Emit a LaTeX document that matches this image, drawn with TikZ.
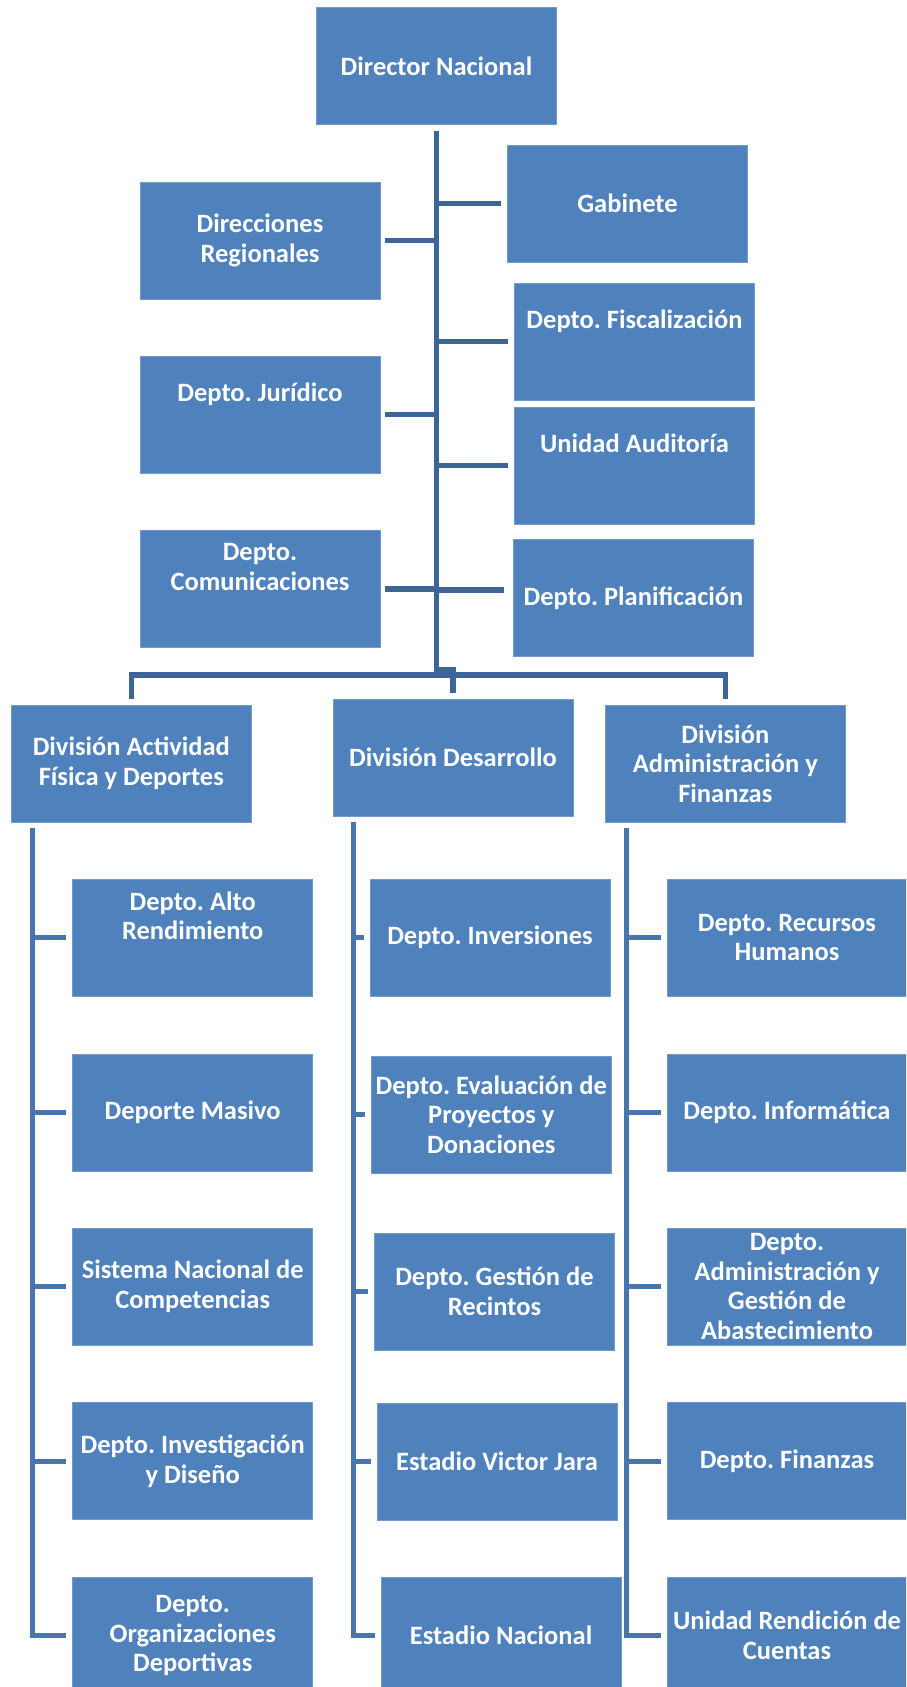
\documentclass[tikz,border=0pt]{standalone}
\usepackage{fontspec}
\setmainfont{Carlito}
\frenchspacing
\usetikzlibrary{positioning, calc}
\definecolor{boxblue}{RGB}{79,129,189}
\definecolor{linkblue}{RGB}{62,101,152}
\definecolor{subblue}{RGB}{72,117,174}
\tikzset{
office/.style = {rectangle, fill = boxblue, draw = boxblue!80!white, line width = 0.8pt,
   minimum width = 240pt, minimum height = 117pt, inner sep = 1pt, align = center,
   text = white, font = \fontsize{26.5}{29.5}\selectfont\bfseries},
raised/.style = {text depth = 44pt},
link/.style = {draw = linkblue, line width = 5.5pt},
sublink/.style = {draw = subblue, line width = 5pt}
}
\begin{document}
\begin{tikzpicture}[x = 1pt, y = -1pt]
\useasboundingbox (0,0) rectangle (906,1687);
\clip (0,0) rectangle (906,1687);

%% Top level
\node [office] (dir) at (436.5,65.8) {Director Nacional};
\node [office] (gab) at (627.5,203.5) {Gabinete};
\node [office] (reg) at (260,240.5) {Direcciones\\Regionales};
\node [office, raised] (fis) at (634.5,341.5) {Depto. Fiscalización};
\node [office, raised] (jur) at (260,414.5) {Depto. Jurídico};
\node [office, raised] (aud) at (634.5,465.5) {Unidad Auditoría};
\node [office, raised] (com) at (260,589) {Depto.\\Comunicaciones};
\node [office] (pla) at (633.5,598) {Depto. Planificación};

%% Divisions
\node [office] (divA) at (131.3,763.5) {División Actividad\\Física y Deportes};
\node [office] (divD) at (453,757.5) {División Desarrollo};
\node [office] (divF) at (725.3,763.5) {División\\Administración y\\Finanzas};

%% Departments
\node [office, raised] (alto) at (192.7,937.5) {Depto. Alto\\Rendimiento};
\node [office] (masivo) at (192.7,1112.5) {Deporte Masivo};
\node [office] (sisnac) at (192.7,1286.5) {Sistema Nacional de\\Competencias};
\node [office] (invest) at (192.7,1461) {Depto. Investigación\\y Diseño};
\node [office] (orgdep) at (192.7,1635.5) {Depto.\\Organizaciones\\Deportivas};

\node [office] (inver) at (490,937.5) {Depto. Inversiones};
\node [office] (evalua) at (491.3,1114.5) {Depto. Evaluación de\\Proyectos y\\Donaciones};
\node [office] (recint) at (494.5,1291.5) {Depto. Gestión de\\Recintos};
\node [office] (vjara) at (497,1461.5) {Estadio Victor Jara};
\node [office] (enac) at (501,1635.5) {Estadio Nacional};

\node [office] (rrhh) at (787,937.5) {Depto. Recursos\\Humanos};
\node [office] (infor) at (787,1112.5) {Depto. Informática};
\node [office] (abast) at (787,1286.5) {Depto.\\Administración y\\Gestión de\\Abastecimiento};
\node [office] (finan) at (787,1461) {Depto. Finanzas};
\node [office] (rendic) at (787,1635.5) {Unidad Rendición de\\Cuentas};

%% Trunk and staff units
\coordinate (fork) at (436.5,675);
\draw [link, shorten <= 6pt] (dir.south) -- (fork);
\draw [link, shorten <= 5pt] (reg.east) -- (reg.east -| fork);
\draw [link, shorten <= 5pt] (jur.east) -- (jur.east -| fork);
\draw [link, shorten <= 5pt] (com.east) -- (com.east -| fork);
\draw [link, shorten >= 6pt] (gab.west -| fork) -- (gab.west);
\draw [link, shorten >= 6pt] (fis.west -| fork) -- (fis.west);
\draw [link, shorten >= 6pt] (aud.west -| fork) -- (aud.west);
\draw [link, shorten >= 9pt] ([yshift = 8pt]pla.west -| fork) -- ([yshift = 8pt]pla.west);

%% Bar to divisions
\draw [link, shorten >= 6pt] (fork) -| (divA.north);
\draw [link, shorten >= 6pt] (fork) -| (divF.north);
\draw [link, shorten >= 6pt] ([yshift = 5pt]fork) -| (divD.north);

%% Division spines
\coordinate (spA) at ([xshift = 21.5pt]divA.south west);
\coordinate (spD) at ([xshift = 20.5pt]divD.south west);
\coordinate (spF) at ([xshift = 21.5pt]divF.south west);

\draw [sublink, shorten <= 6pt, shorten >= 6pt] (spA) |- (orgdep.west);
\draw [sublink, shorten >= 6pt] (alto.west -| spA) -- (alto.west);
\draw [sublink, shorten >= 6pt] (masivo.west -| spA) -- (masivo.west);
\draw [sublink, shorten >= 6pt] (sisnac.west -| spA) -- (sisnac.west);
\draw [sublink, shorten >= 6pt] (invest.west -| spA) -- (invest.west);

\draw [sublink, shorten <= 6pt, shorten >= 6pt] (spD) |- (enac.west);
\draw [sublink, shorten >= 6pt] (inver.west -| spD) -- (inver.west);
\draw [sublink, shorten >= 6pt] (evalua.west -| spD) -- (evalua.west);
\draw [sublink, shorten >= 6pt] (recint.west -| spD) -- (recint.west);
\draw [sublink, shorten >= 6pt] (vjara.west -| spD) -- (vjara.west);

\draw [sublink, shorten <= 6pt, shorten >= 6pt] (spF) |- (rendic.west);
\draw [sublink, shorten >= 6pt] (rrhh.west -| spF) -- (rrhh.west);
\draw [sublink, shorten >= 6pt] (infor.west -| spF) -- (infor.west);
\draw [sublink, shorten >= 6pt] (abast.west -| spF) -- (abast.west);
\draw [sublink, shorten >= 6pt] (finan.west -| spF) -- (finan.west);

\end{tikzpicture}
\end{document}
